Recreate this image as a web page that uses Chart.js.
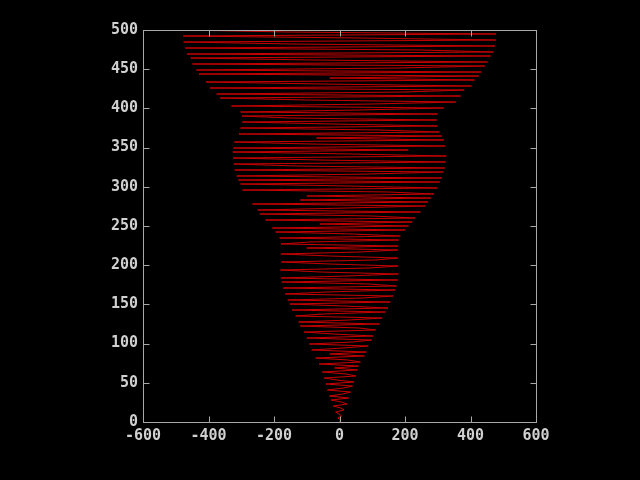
<!DOCTYPE html>
<html>
<head>
<meta charset="utf-8">
<script src="https://cdn.jsdelivr.net/npm/chart.js@4.4.0/dist/chart.umd.min.js"></script>
<style>
  html, body { margin: 0; padding: 0; background: #000; }
</style>
</head>
<body>
<canvas id="grafica" width="640" height="480"></canvas>
<script>
// --- DATOS ---
// cada punto se une con el siguiente; y sube Y_STEP por punto (197 puntos de 0 a 500)
const Y_STEP = 500 / 196;
const valoresX = [
    0, 3, -5, 7, -2, -12, 14, 4,
    -19, 23, 6, -26, 28, -31, 10, 34,
    -37, 12, 40, -42, 44, -8, -47, 50,
    20, -53, 55, -15, 58, -62, 64, 25,
    -73, 76, -30, 82, -85, 10, 88, -92,
    40, 98, -100, 103, -20, -108, 110, 60,
    -120, 122, -125, 30, 130, -134, -50, 140,
    -145, 148, 15, -152, 155, -158, 70, 164,
    -166, -40, 170, -172, 174, 90, -176, 178,
    -179, 20, 180, -60, -180, 90, 179, -30,
    -178, 110, 178, -30, -179, 60, 178, -100,
    179, -179, -90, 181, -183, 186, 40, -195,
    200, -205, 211, -60, 222, -226, 231, 100,
    -243, 247, -250, 20, 262, -266, 270, -120,
    280, -100, 288, 150, -296, 299, 30, -302,
    306, -309, 312, -314, 90, 317, -320, 322,
    -130, -323, 324, -60, -325, 326, 40, -326,
    210, -324, 323, -90, -321, 319, -70, 312,
    -307, 305, 120, -302, 299, -20, -297, 297,
    -150, -298, 299, -302, 60, 318, -330, 100,
    355, -100, -365, 370, -375, 200, 381, -396,
    403, -50, -408, 412, -30, 425, -429, 433,
    -437, 180, 444, -449, 452, -80, -454, 461,
    -466, 470, 250, -471, 475, -140, -476, 477,
    60, -477, 478, -160, -471
];
const ticksX = [-600, -400, -200, 0, 200, 400, 600];
const ticksY = [0, 50, 100, 150, 200, 250, 300, 350, 400, 450, 500];

const COLOR_LINEA = '#c80000';
const COLOR_MARCO = '#a8a8a8';
const COLOR_TEXTO = '#d0d0d0';
const LARGO_TICK = 6;

const puntos = valoresX.map((x, i) => ({ x: x, y: i * Y_STEP }));

// fondo negro, marco completo y ticks hacia dentro (estilo gnuplot)
const pluginMarco = {
    id: 'marco',
    beforeDraw(chart) {
        const ctx = chart.ctx;
        ctx.save();
        ctx.fillStyle = '#000';
        ctx.fillRect(0, 0, chart.width, chart.height);
        ctx.restore();
    },
    afterDraw(chart) {
        const { ctx, chartArea: a, scales } = chart;
        ctx.save();
        ctx.strokeStyle = COLOR_MARCO;
        ctx.lineWidth = 1;
        const l = Math.round(a.left) + 0.5, r = Math.round(a.right) + 0.5;
        const t = Math.round(a.top) + 0.5, b = Math.round(a.bottom) + 0.5;
        ctx.strokeRect(l, t, r - l, b - t);
        ctx.beginPath();
        ticksX.forEach(v => {
            const px = Math.round(scales.x.getPixelForValue(v)) + 0.5;
            ctx.moveTo(px, b);
            ctx.lineTo(px, b - LARGO_TICK);
            ctx.moveTo(px, t);
            ctx.lineTo(px, t + LARGO_TICK);
        });
        ticksY.forEach(v => {
            const py = Math.round(scales.y.getPixelForValue(v)) + 0.5;
            ctx.moveTo(l, py);
            ctx.lineTo(l + LARGO_TICK, py);
            ctx.moveTo(r, py);
            ctx.lineTo(r - LARGO_TICK, py);
        });
        ctx.stroke();
        ctx.restore();
    }
};

const fuente = { family: '"DejaVu Sans Mono", monospace', size: 15, weight: 'bold' };

new Chart(document.getElementById('grafica').getContext('2d'), {
    type: 'scatter',
    data: {
        datasets: [{
            data: puntos,
            showLine: true,
            borderColor: COLOR_LINEA,
            borderWidth: 1,
            pointRadius: 0,
            tension: 0
        }]
    },
    options: {
        responsive: false,
        devicePixelRatio: 1,
        animation: false,
        layout: { padding: { left: 0, top: 30, right: 104, bottom: 0 } },
        plugins: { legend: { display: false }, tooltip: { enabled: false } },
        scales: {
            x: {
                type: 'linear', min: -600, max: 600,
                afterBuildTicks: s => { s.ticks = ticksX.map(v => ({ value: v })); },
                afterFit: s => { s.height = 58; },
                grid: { display: false, drawTicks: false },
                border: { display: false },
                ticks: { color: COLOR_TEXTO, font: fuente, padding: 5, maxRotation: 0 }
            },
            y: {
                type: 'linear', min: 0, max: 500,
                afterBuildTicks: s => { s.ticks = ticksY.map(v => ({ value: v })); },
                afterFit: s => { s.width = 143; },
                grid: { display: false, drawTicks: false },
                border: { display: false },
                ticks: { color: COLOR_TEXTO, font: fuente, padding: 5 }
            }
        }
    },
    plugins: [pluginMarco]
});
</script>
</body>
</html>
